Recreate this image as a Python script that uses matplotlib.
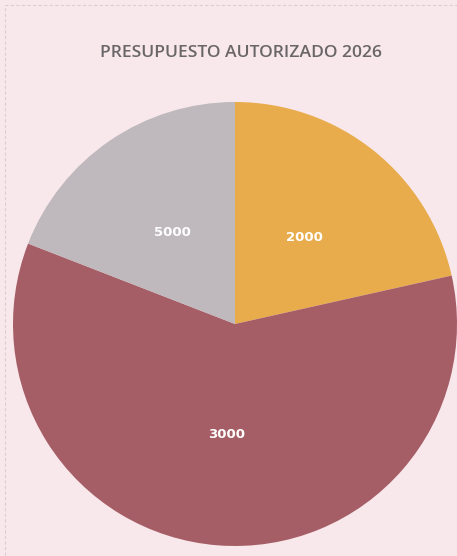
import matplotlib
matplotlib.use("Agg")
import matplotlib.pyplot as plt
from matplotlib.patches import Rectangle

title = "PRESUPUESTO AUTORIZADO 2026"
labels = ["2000", "3000", "5000"]
# slice shares as drawn in the picture (percent of the circle)
shares = [21.5, 59.4, 19.1]
colors = ["#e8ac4c", "#a65e66", "#bfb8bc"]

W, H = 457, 556
fig = plt.figure(figsize=(W / 100, H / 100), dpi=100)
fig.patch.set_facecolor("#f8e8ec")

# faint frame of the scanned chart area
fig.patches.append(Rectangle((5 / W, -0.01), 1.2, (H - 5) / H + 0.01,
                             transform=fig.transFigure, fill=False,
                             edgecolor="#d9cfd3", linewidth=0.8,
                             linestyle=(0, (3, 2))))

cx, cy, r = 235, H - 324, 222
ax = fig.add_axes([(cx - r) / W, (cy - r) / H, 2 * r / W, 2 * r / H])
ax.set_facecolor("none")
wedges, texts = ax.pie(shares, labels=labels, colors=colors, startangle=90,
                       counterclock=False, labeldistance=0.5,
                       wedgeprops=dict(linewidth=0),
                       textprops=dict(color="white", fontsize=9.5,
                                      fontweight="bold", family="DejaVu Sans"))
for t in texts:
    t.set_horizontalalignment("center")
    t.set_verticalalignment("center")
ax.set_xlim(-1, 1)
ax.set_ylim(-1, 1)
ax.set_aspect("equal")
ax.axis("off")

fig.text(241 / W, 1 - 53 / H, title, ha="center", va="center",
         fontsize=12.6, color="#6a6668", family="Open Sans", fontweight="semibold")

fig.savefig("out.png", dpi=100, facecolor=fig.get_facecolor())
